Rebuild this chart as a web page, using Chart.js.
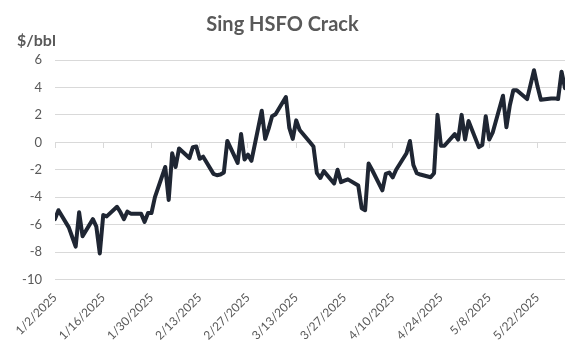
<!DOCTYPE html>
<html>
<head>
<meta charset="utf-8">
<script src="https://cdn.jsdelivr.net/npm/chart.js@4/dist/chart.umd.min.js"></script>
<style>
html, body { margin: 0; padding: 0; background: #fff; }
</style>
</head>
<body>
<canvas id="myChart" width="582" height="351"></canvas>
<script>
// trading days (weekdays), 2025
const tradeDates = [
  '1/2/2025','1/3/2025','1/6/2025','1/7/2025','1/8/2025','1/9/2025','1/10/2025','1/13/2025','1/14/2025','1/15/2025','1/16/2025','1/17/2025','1/20/2025','1/21/2025','1/22/2025','1/23/2025','1/24/2025','1/27/2025','1/28/2025','1/29/2025','1/30/2025','1/31/2025',
  '2/3/2025','2/4/2025','2/5/2025','2/6/2025','2/7/2025','2/10/2025','2/11/2025','2/12/2025','2/13/2025','2/14/2025','2/17/2025','2/18/2025','2/19/2025','2/20/2025','2/21/2025','2/24/2025','2/25/2025','2/26/2025','2/27/2025','2/28/2025',
  '3/3/2025','3/4/2025','3/5/2025','3/6/2025','3/7/2025','3/10/2025','3/11/2025','3/12/2025','3/13/2025','3/14/2025','3/17/2025','3/18/2025','3/19/2025','3/20/2025','3/21/2025','3/24/2025','3/25/2025','3/26/2025','3/27/2025','3/28/2025','3/31/2025',
  '4/1/2025','4/2/2025','4/3/2025','4/4/2025','4/7/2025','4/8/2025','4/9/2025','4/10/2025','4/11/2025','4/14/2025','4/15/2025','4/16/2025','4/17/2025','4/18/2025','4/21/2025','4/22/2025','4/23/2025','4/24/2025','4/25/2025','4/28/2025','4/29/2025','4/30/2025',
  '5/1/2025','5/2/2025','5/5/2025','5/6/2025','5/7/2025','5/8/2025','5/9/2025','5/12/2025','5/13/2025','5/14/2025','5/15/2025','5/16/2025','5/19/2025','5/20/2025','5/21/2025','5/22/2025','5/23/2025','5/26/2025','5/27/2025','5/28/2025','5/29/2025','5/30/2025'
];

// Sing HSFO crack, $/bbl
const hsfoCrack = [
  -5.6,-4.95,-6.2,-6.9,-7.6,-5.1,-6.85,-5.6,-6.15,-8.1,-5.3,-5.4,-4.7,-5.1,-5.6,-5.05,-5.2,-5.2,-5.8,-5.15,-5.15,-4.0,
  -1.8,-4.2,-0.8,-1.8,-0.45,-1.15,-0.35,-0.3,-1.2,-1.05,-2.3,-2.4,-2.35,-2.2,0.1,-1.5,0.6,-1.25,-0.9,-1.35,
  2.3,0.25,1.0,1.9,2.05,3.3,1.05,0.25,1.6,0.9,0.0,-0.3,-2.25,-2.6,-2.1,-3.0,-2.0,-2.9,-2.8,-2.7,-3.15,
  -4.8,-4.95,-1.55,-2.0,-3.5,-2.3,-2.2,-2.55,-2.0,-0.8,0.1,-1.65,-2.25,-2.35,-2.55,-2.25,2.0,-0.25,-0.25,0.6,0.2,2.0,
  0.2,1.55,-0.35,-0.2,1.9,0.2,0.7,3.4,1.1,2.7,3.8,3.8,3.15,4.2,5.25,4.1,3.1,3.2,3.2,3.15,5.15,3.95
];

const xTickLabels = ['1/2/2025','1/16/2025','1/30/2025','2/13/2025','2/27/2025','3/13/2025','3/27/2025','4/10/2025','4/24/2025','5/8/2025','5/22/2025'];
const yMin = -10, yMax = 6, yStep = 2;

// date axis: days since first date
function dayNum(s) {
  var p = s.split('/');
  return Date.UTC(+p[2], +p[0] - 1, +p[1]) / 864e5;
}
var day0 = dayNum(tradeDates[0]);
var lastDay = dayNum(tradeDates[tradeDates.length - 1]) - day0;
var points = [];
for (var i = 0; i < tradeDates.length; i++) {
  points.push({ x: dayNum(tradeDates[i]) - day0, y: hsfoCrack[i] });
}

var gray = '#595959';
var gridGray = '#d9d9d9';
var font = 'Lato';

// "$/bbl" label above the value axis
const unitLabel = {
  id: 'unitLabel',
  afterDraw: function (chart) {
    var ctx = chart.ctx;
    ctx.save();
    ctx.font = 'bold 16px ' + font;
    ctx.fillStyle = gray;
    ctx.textBaseline = 'middle';
    ctx.fillText('$/bbl', 17, 41);
    ctx.restore();
  }
};

const ctx = document.getElementById('myChart').getContext('2d');
new Chart(ctx, {
  type: 'line',
  data: {
    datasets: [{
      label: 'Sing HSFO Crack',
      data: points,
      borderColor: '#1f2633',
      borderWidth: 4,
      borderJoinStyle: 'round',
      borderCapStyle: 'round',
      pointRadius: 0,
      tension: 0,
      fill: false
    }]
  },
  plugins: [unitLabel],
  options: {
    responsive: false,
    animation: false,
    layout: { padding: { left: 0, right: 17, top: 0, bottom: 0 } },
    plugins: {
      legend: { display: false },
      tooltip: { enabled: false },
      title: {
        display: true,
        text: 'Sing HSFO Crack',
        color: gray,
        font: { family: font, size: 20, weight: 'bold' },
        padding: { top: 13, bottom: 23 }
      }
    },
    scales: {
      x: {
        type: 'linear',
        min: 0,
        max: lastDay,
        afterFit: function (scale) { scale.height = 71.5; },
        grid: { display: false, drawTicks: false },
        border: { display: false },
        ticks: {
          stepSize: 14,
          includeBounds: false,
          autoSkip: false,
          maxRotation: 45,
          minRotation: 45,
          padding: 11,
          color: gray,
          font: { family: font, size: 12 },
          callback: function (value) {
            return xTickLabels[Math.round(value / 14)];
          }
        }
      },
      x0: {
        type: 'linear',
        position: { y: 0 },
        min: 0,
        max: lastDay,
        grid: { drawOnChartArea: false, drawTicks: true, tickLength: 5, color: gridGray },
        border: { display: true, color: gridGray },
        ticks: { display: false, stepSize: 14, includeBounds: false }
      },
      y: {
        min: yMin,
        max: yMax,
        afterFit: function (scale) { scale.width = 55; },
        grid: { color: gridGray, drawTicks: false },
        border: { display: false },
        ticks: {
          stepSize: yStep,
          padding: 13,
          color: gray,
          font: { family: font, size: 13 }
        }
      }
    }
  }
});
</script>
</body>
</html>
